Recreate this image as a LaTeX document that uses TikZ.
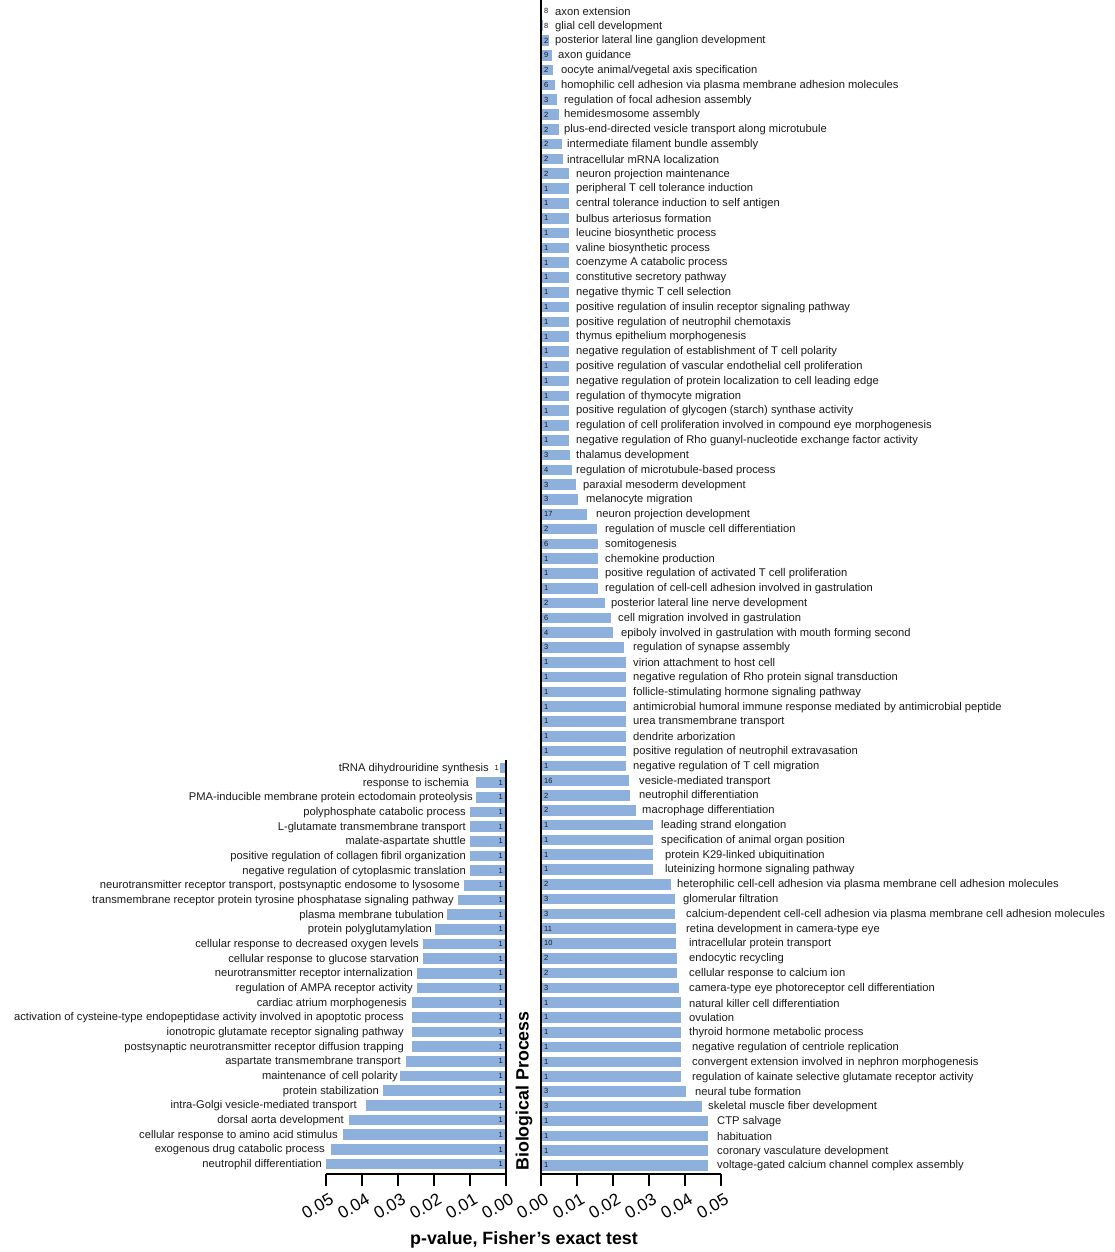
\documentclass[tikz,border=0pt]{standalone}
\usepackage{fontspec}
\setmainfont{Liberation Sans}
\usetikzlibrary{positioning}
\definecolor{barblue}{HTML}{8DB0DD}
\definecolor{textdark}{HTML}{1A1A1A}

\tikzset{
  golabel/.style={font=\fontsize{11.2}{13}\selectfont, text=textdark, inner sep=0pt},
  countlabel/.style={font=\fontsize{7.5}{8}\selectfont, text=textdark, inner sep=0pt},
  gobar/.style={fill=barblue, draw=none},
  axisline/.style={line width=2.9pt, black},
  ticklabel/.style={font=\fontsize{17}{19}\selectfont, rotate=30, anchor=east, inner sep=0pt},
  bigtitle/.style={font=\bfseries\fontsize{17.8}{20}\selectfont, inner sep=0pt}
}

\begin{document}
\begin{tikzpicture}[x=1pt, y=-1pt]
\useasboundingbox (0,0) rectangle (1115,1252);
% right panel: bars, gene counts, terms
\foreach \e/\lx/\n/\t [count=\i] in {
  542/555/8/{axon extension},
  543/555/8/{glial cell development},
  549/555/2/{posterior lateral line ganglion development},
  552/558/9/{axon guidance},
  553/561/2/{oocyte animal/vegetal axis specification},
  555/561/6/{homophilic cell adhesion via plasma membrane adhesion molecules},
  557/564/3/{regulation of focal adhesion assembly},
  559/564/2/{hemidesmosome assembly},
  559/564/2/{plus-end-directed vesicle transport along microtubule},
  562/567/2/{intermediate filament bundle assembly},
  563/567/2/{intracellular mRNA localization},
  569/576/2/{neuron projection maintenance},
  569/576/1/{peripheral T cell tolerance induction},
  569/576/1/{central tolerance induction to self antigen},
  569/576/1/{bulbus arteriosus formation},
  569/576/1/{leucine biosynthetic process},
  569/576/1/{valine biosynthetic process},
  569/576/1/{coenzyme A catabolic process},
  569/576/1/{constitutive secretory pathway},
  569/576/1/{negative thymic T cell selection},
  569/576/1/{positive regulation of insulin receptor signaling pathway},
  569/576/1/{positive regulation of neutrophil chemotaxis},
  569/576/1/{thymus epithelium morphogenesis},
  569/576/1/{negative regulation of establishment of T cell polarity},
  569/576/1/{positive regulation of vascular endothelial cell proliferation},
  569/576/1/{negative regulation of protein localization to cell leading edge},
  569/576/1/{regulation of thymocyte migration},
  569/576/1/{positive regulation of glycogen (starch) synthase activity},
  569/576/1/{regulation of cell proliferation involved in compound eye morphogenesis},
  569/576/1/{negative regulation of Rho guanyl-nucleotide exchange factor activity},
  570/576/3/{thalamus development},
  572/576/4/{regulation of microtubule-based process},
  576/583/3/{paraxial mesoderm development},
  578/586/3/{melanocyte migration},
  587/596/17/{neuron projection development},
  597/605/2/{regulation of muscle cell differentiation},
  598/605/6/{somitogenesis},
  598/605/1/{chemokine production},
  598/605/1/{positive regulation of activated T cell proliferation},
  598/605/1/{regulation of cell-cell adhesion involved in gastrulation},
  605/611/2/{posterior lateral line nerve development},
  611/618/6/{cell migration involved in gastrulation},
  613/621/4/{epiboly involved in gastrulation with mouth forming second},
  624/633/3/{regulation of synapse assembly},
  626/633/1/{virion attachment to host cell},
  626/633/1/{negative regulation of Rho protein signal transduction},
  626/633/1/{follicle-stimulating hormone signaling pathway},
  626/633/1/{antimicrobial humoral immune response mediated by antimicrobial peptide},
  626/633/1/{urea transmembrane transport},
  626/633/1/{dendrite arborization},
  626/633/1/{positive regulation of neutrophil extravasation},
  626/633/1/{negative regulation of T cell migration},
  629/639/16/{vesicle-mediated transport},
  630/639/2/{neutrophil differentiation},
  636/642/2/{macrophage differentiation},
  653/661/1/{leading strand elongation},
  653/661/1/{specification of animal organ position},
  653/665/1/{protein K29-linked ubiquitination},
  653/665/1/{luteinizing hormone signaling pathway},
  671/677/2/{heterophilic cell-cell adhesion via plasma membrane cell adhesion molecules},
  675/683/3/{glomerular filtration},
  675/686/3/{calcium-dependent cell-cell adhesion via plasma membrane cell adhesion molecules},
  676/686/11/{retina development in camera-type eye},
  676/689/10/{intracellular protein transport},
  677/689/2/{endocytic recycling},
  677/689/2/{cellular response to calcium ion},
  679/689/3/{camera-type eye photoreceptor cell differentiation},
  681/689/1/{natural killer cell differentiation},
  681/689/1/{ovulation},
  681/689/1/{thyroid hormone metabolic process},
  681/692/1/{negative regulation of centriole replication},
  681/692/1/{convergent extension involved in nephron morphogenesis},
  681/692/1/{regulation of kainate selective glutamate receptor activity},
  686/695/3/{neural tube formation},
  702/708/3/{skeletal muscle fiber development},
  708/717/1/{CTP salvage},
  708/717/1/{habituation},
  708/717/1/{coronary vasculature development},
  708/717/1/{voltage-gated calcium channel complex assembly}}{
  \pgfmathsetmacro{\yy}{11+(\i-1)*14.8}
  \fill[gobar] (541,\yy-5.3) rectangle (\e,\yy+5.3);
  \node[countlabel, anchor=west] (rc\i) at (544,\yy) {\n};
  \node[golabel, anchor=west] (rt\i) at (\lx,\yy+0.5) {\t};
}
% left panel: bars, gene counts, terms
\foreach \b/\cx/\lx/\t [count=\i] in {
  500/499/489/{tRNA dihydrouridine synthesis},
  476/503/469/{response to ischemia},
  476/503/473/{PMA-inducible membrane protein ectodomain proteolysis},
  470/503/466/{polyphosphate catabolic process},
  470/503/466/{L-glutamate transmembrane transport},
  470/503/466/{malate-aspartate shuttle},
  470/503/466/{positive regulation of collagen fibril organization},
  470/503/466/{negative regulation of cytoplasmic translation},
  464/503/460/{neurotransmitter receptor transport, postsynaptic endosome to lysosome},
  458/503/454/{transmembrane receptor protein tyrosine phosphatase signaling pathway},
  447/503/444/{plasma membrane tubulation},
  435/503/432/{protein polyglutamylation},
  423/503/419/{cellular response to decreased oxygen levels},
  423/503/419/{cellular response to glucose starvation},
  417/503/413/{neurotransmitter receptor internalization},
  417/503/413/{regulation of AMPA receptor activity},
  412/503/407/{cardiac atrium morphogenesis},
  412/503/404/{activation of cysteine-type endopeptidase activity involved in apoptotic process},
  412/503/404/{ionotropic glutamate receptor signaling pathway},
  412/503/404/{postsynaptic neurotransmitter receptor diffusion trapping},
  406/503/401/{aspartate transmembrane transport},
  400/503/398/{maintenance of cell polarity},
  383/503/379/{protein stabilization},
  366/503/357/{intra-Golgi vesicle-mediated transport},
  349/503/344/{dorsal aorta development},
  343/503/338/{cellular response to amino acid stimulus},
  331/503/325/{exogenous drug catabolic process},
  326/503/322/{neutrophil differentiation}}{
  \pgfmathsetmacro{\yy}{768+(\i-1)*14.67}
  \fill[gobar] (\b,\yy-5.3) rectangle (506,\yy+5.3);
  \node[countlabel, anchor=east] (lc\i) at (\cx,\yy) {1};
  \node[golabel, anchor=east] (lt\i) at (\lx,\yy+0.5) {\t};
}
% axes
\draw[axisline] (541,0) -- (541,1186);
\draw[axisline] (506,760) -- (506,1186);
\draw[axisline] (541,1174) -- (721,1174);
\draw[axisline] (326,1174) -- (506,1174);
\foreach \v [count=\k from 0] in {0.00,0.01,0.02,0.03,0.04,0.05}{
  \draw[axisline] (541+\k*36,1174) -- (541+\k*36,1186);
  \draw[axisline] (506-\k*36,1174) -- (506-\k*36,1186);
  \node[ticklabel] (rtick\k) at (547+\k*36,1198) {\v};
  \node[ticklabel] (ltick\k) at (512-\k*36,1198) {\v};
}
% titles
\node[bigtitle, rotate=90] (bp) at (524,1091) {Biological Process};
\node[bigtitle] (xtitle) at (524,1240) {p-value, Fisher’s exact test};
\end{tikzpicture}
\end{document}
